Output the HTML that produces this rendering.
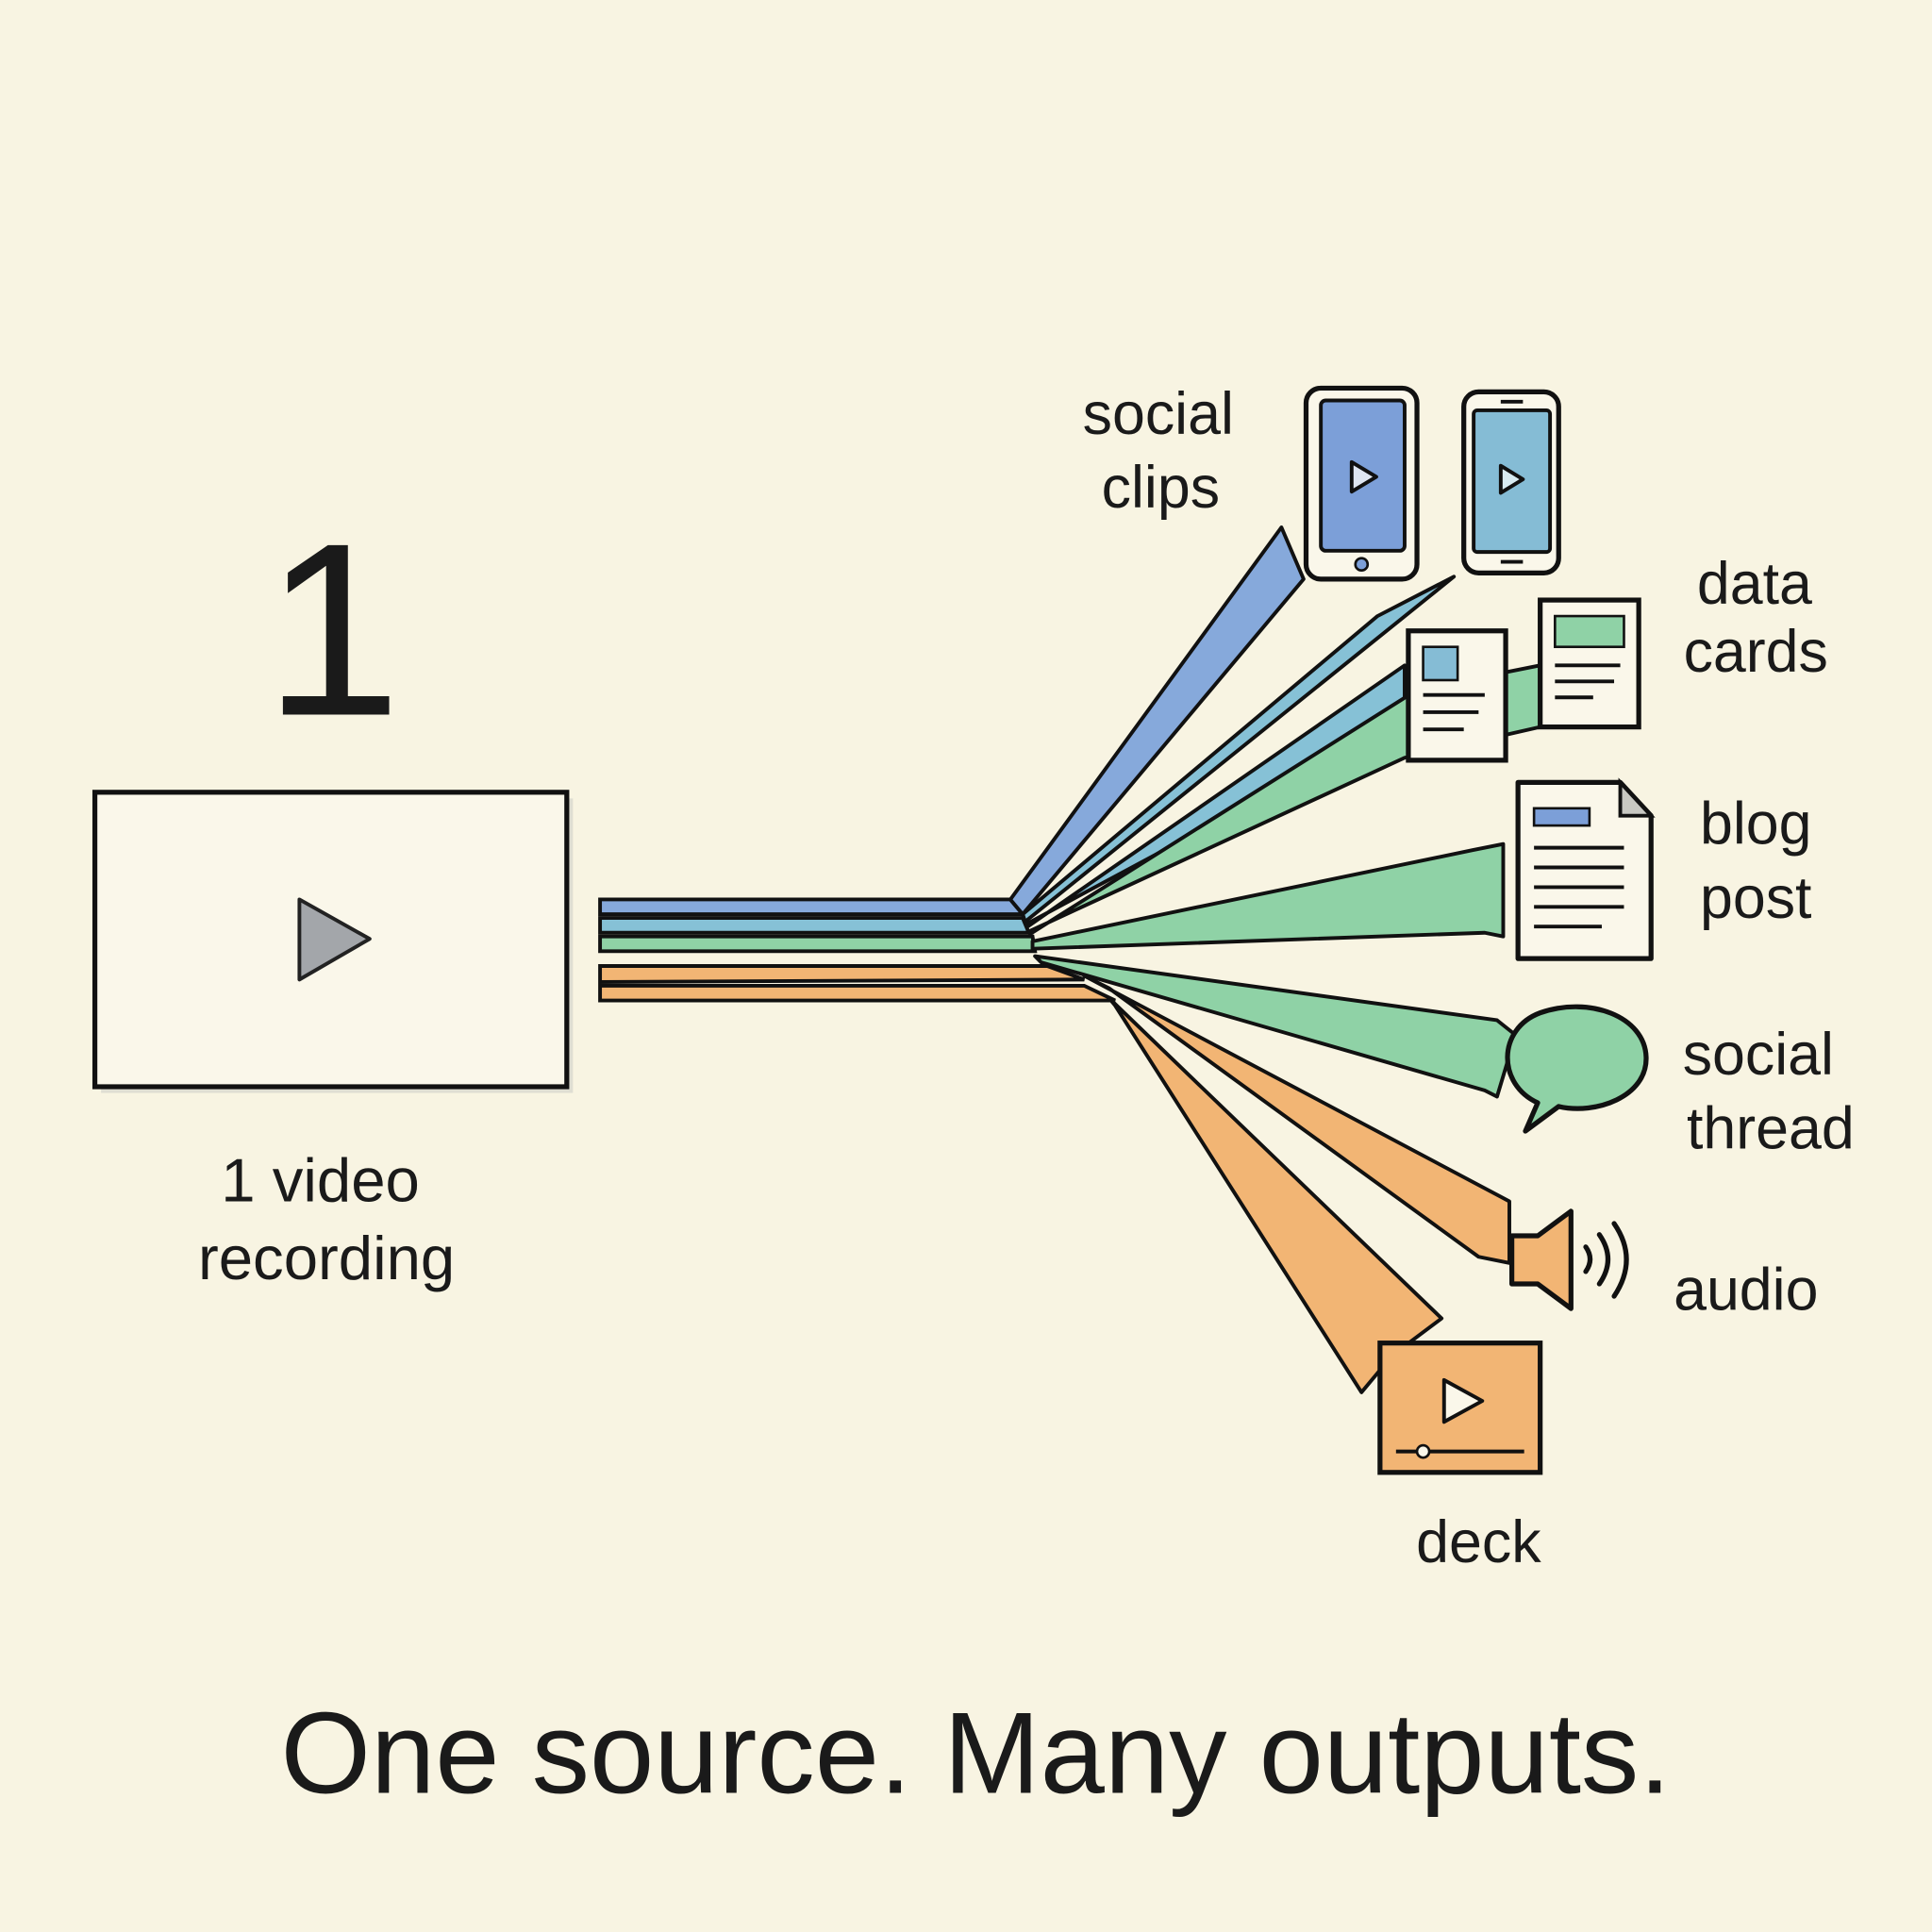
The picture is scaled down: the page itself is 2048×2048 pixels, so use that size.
<!DOCTYPE html>
<html><head><meta charset="utf-8"><style>
html,body{margin:0;padding:0;background:#f8f4e2;}
svg{display:block}
text{font-family:"Liberation Sans","DejaVu Sans",sans-serif;fill:#1a1a1a;}
</style></head><body>
<svg width="2048" height="2048" viewBox="0 0 1568 1568" xmlns="http://www.w3.org/2000/svg">
<rect width="1568" height="1568" fill="#f8f4e2"/>
<text x="270" y="580" font-size="200" text-anchor="middle">1</text>
<rect x="82" y="648" width="383" height="239" fill="#cfcfc8" opacity="0.6"/>
<rect x="77" y="643" width="383" height="239" fill="#faf7ea" stroke="#111" stroke-width="4"/>
<polygon points="243,730 300,762 243,795" fill="#a3a6aa" stroke="#222" stroke-width="3" stroke-linejoin="round"/>
<text x="260" y="975" font-size="50" text-anchor="middle">1 video</text>
<text x="265" y="1038" font-size="50" text-anchor="middle">recording</text>

<g stroke="#111" stroke-width="3">
<polygon points="487,730 820,730 830,742 487,742" fill="#86a9db"/>
<polygon points="487,745 830,745 835,757 487,757" fill="#86c1d6"/>
<polygon points="487,760 838,760 840,772 487,772" fill="#8fd2a6"/>
<polygon points="487,784 850,784 880,795 487,797" fill="#f2b574"/>
<polygon points="487,800 880,800 905,812 487,812" fill="#f2b574"/>
</g>
<g stroke="#111" stroke-width="3" stroke-linejoin="round">
<polygon points="820,730 1040,428 1058,470 830,742" fill="#86a9db"/>
<polygon points="830,742 1118,500 1180,468 832,748" fill="#86c1d6"/>
<polygon points="833,750 1140,585 1140,540 834,752" fill="#86c1d6"/>
<polygon points="835,756 1140,615 1250,590 1250,540 1150,560 836,758" fill="#8fd2a6"/>
<polygon points="838,764 1195,690 1220,685 1220,760 1205,757 838,770" fill="#8fd2a6"/>
<polygon points="840,776 1215,828 1230,840 1215,890 1205,885 845,781" fill="#8fd2a6"/>
<polygon points="880,792 1225,975 1225,1025 1200,1020 900,802" fill="#f2b574"/>
<polygon points="900,810 1170,1070 1130,1100 1105,1130 905,816" fill="#f2b574"/>
</g>

<rect x="1060" y="315" width="90" height="155" rx="12" fill="#faf7ea" stroke="#111" stroke-width="4"/>
<rect x="1072" y="325" width="68" height="122" rx="4" fill="#7c9fd8" stroke="#111" stroke-width="3"/>
<circle cx="1105" cy="458" r="5" fill="#7c9fd8" stroke="#111" stroke-width="2"/>
<polygon points="1097,375 1117,387 1097,399" fill="#dfe6f2" stroke="#111" stroke-width="3" stroke-linejoin="round"/>
<rect x="1188" y="318" width="77" height="147" rx="12" fill="#faf7ea" stroke="#111" stroke-width="4"/>
<rect x="1196" y="333" width="62" height="115" rx="3" fill="#85bcd5" stroke="#111" stroke-width="3"/>
<line x1="1218" y1="326" x2="1236" y2="326" stroke="#111" stroke-width="3"/>
<line x1="1218" y1="456" x2="1236" y2="456" stroke="#111" stroke-width="3"/>
<polygon points="1218,378 1236,389 1218,400" fill="#d8ebf1" stroke="#111" stroke-width="3" stroke-linejoin="round"/>
<rect x="1143" y="512" width="79" height="105" fill="#faf7ea" stroke="#111" stroke-width="4"/>
<rect x="1155" y="525" width="28" height="27" fill="#85bcd5" stroke="#111" stroke-width="2"/>
<g stroke="#111" stroke-width="3"><line x1="1155" y1="564" x2="1205" y2="564"/><line x1="1155" y1="578" x2="1200" y2="578"/><line x1="1155" y1="592" x2="1188" y2="592"/></g>
<rect x="1250" y="487" width="80" height="103" fill="#faf7ea" stroke="#111" stroke-width="4"/>
<rect x="1262" y="500" width="56" height="25" fill="#8fd2a6" stroke="#111" stroke-width="2"/>
<g stroke="#111" stroke-width="3"><line x1="1262" y1="540" x2="1315" y2="540"/><line x1="1262" y1="553" x2="1310" y2="553"/><line x1="1262" y1="566" x2="1293" y2="566"/></g>
<path d="M1232,635 L1315,635 L1340,662 L1340,778 L1232,778 Z" fill="#faf7ea" stroke="#111" stroke-width="4" stroke-linejoin="round"/>
<path d="M1315,635 L1315,662 L1340,662 Z" fill="#c8c8c2" stroke="#111" stroke-width="3"/>
<rect x="1245" y="656" width="45" height="14" fill="#7c9fd8" stroke="#111" stroke-width="2"/>
<g stroke="#111" stroke-width="3"><line x1="1245" y1="688" x2="1318" y2="688"/><line x1="1245" y1="704" x2="1318" y2="704"/><line x1="1245" y1="720" x2="1318" y2="720"/><line x1="1245" y1="736" x2="1318" y2="736"/><line x1="1245" y1="752" x2="1300" y2="752"/></g>
<path d="M1248,895 C1215,880 1215,835 1250,822 C1290,808 1335,825 1336,858 C1337,890 1295,905 1265,898 L1238,918 Z" fill="#8fd2a6" stroke="#111" stroke-width="4" stroke-linejoin="round"/>
<path d="M1227,1003 L1248,1003 L1275,983 L1275,1062 L1248,1042 L1227,1042 Z" fill="#f2b574" stroke="#111" stroke-width="4" stroke-linejoin="round"/>
<g fill="none" stroke="#111" stroke-width="4" stroke-linecap="round">
<path d="M1287,1012 Q1294,1022 1287,1032"/>
<path d="M1298,1002 Q1312,1022 1298,1042"/>
<path d="M1310,993 Q1330,1022 1310,1052"/>
</g>
<rect x="1120" y="1090" width="130" height="105" fill="#f2b574" stroke="#111" stroke-width="4"/>
<polygon points="1172,1120 1203,1137 1172,1154" fill="#faf7ea" stroke="#111" stroke-width="3" stroke-linejoin="round"/>
<line x1="1133" y1="1178" x2="1237" y2="1178" stroke="#111" stroke-width="3"/>
<circle cx="1155" cy="1178" r="5" fill="#faf7ea" stroke="#111" stroke-width="2"/>

<g font-size="48">
<text x="940" y="352" text-anchor="middle">social</text>
<text x="942" y="412" text-anchor="middle">clips</text>
<text x="1424" y="490" text-anchor="middle">data</text>
<text x="1425" y="545" text-anchor="middle">cards</text>
<text x="1425" y="685" text-anchor="middle">blog</text>
<text x="1425" y="745" text-anchor="middle">post</text>
<text x="1427" y="872" text-anchor="middle">social</text>
<text x="1437" y="932" text-anchor="middle">thread</text>
<text x="1417" y="1063" text-anchor="middle">audio</text>
<text x="1200" y="1268" text-anchor="middle">deck</text>
</g>
<text x="792" y="1455" font-size="94" text-anchor="middle">One source. Many outputs.</text>
</svg>
</body></html>
